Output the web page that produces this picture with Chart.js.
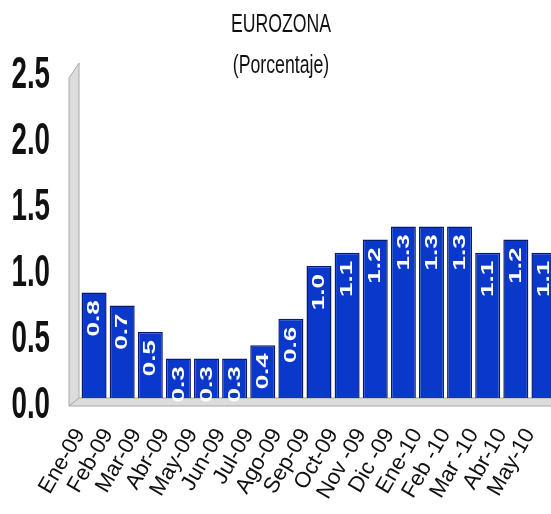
<!DOCTYPE html>
<html>
<head>
<meta charset="utf-8">
<script src="https://cdn.jsdelivr.net/npm/chart.js@4.4.1/dist/chart.umd.min.js"></script>
<style>
  html, body { margin: 0; padding: 0; background: #ffffff; overflow: hidden; }
  #wrap { width: 560px; height: 514px; }
</style>
</head>
<body>
<div id="wrap"><canvas id="c" width="560" height="514"></canvas></div>
<script>
// Monthly rate, Eurozone (percent)
const months = ['Ene-09', 'Feb-09', 'Mar-09', 'Abr-09', 'May-09', 'Jun-09', 'Jul-09', 'Ago-09',
                'Sep-09', 'Oct-09', 'Nov -09', 'Dic -09', 'Ene-10', 'Feb -10', 'Mar -10', 'Abr-10', 'May-10'];
const rates = [0.8, 0.7, 0.5, 0.3, 0.3, 0.3, 0.4, 0.6, 1.0, 1.1, 1.2, 1.3, 1.3, 1.3, 1.1, 1.2, 1.1];
const yTicks = [0, 0.5, 1.0, 1.5, 2.0, 2.5];
const titleLines = ['EUROZONA', '(Porcentaje)'];

const SANS = "'Liberation Sans', Arial, sans-serif";
const SQUASH = 0.63;   // horizontal compression applied to the text

// Grey back wall and floor giving the plot a 3-D frame
const framePlugin = {
  id: 'frame3d',
  beforeDatasetsDraw(chart) {
    const { ctx, chartArea: a } = chart;
    ctx.save();
    ctx.fillStyle = '#dcdcdc';
    ctx.strokeStyle = '#a8a8a8';
    ctx.lineWidth = 1;
    // wall
    ctx.beginPath();
    ctx.moveTo(a.left - 11, a.top + 10);
    ctx.lineTo(a.left - 1, a.top - 5);
    ctx.lineTo(a.left - 1, a.bottom);
    ctx.lineTo(a.left - 11, a.bottom + 8);
    ctx.closePath();
    ctx.fill();
    ctx.stroke();
    // floor
    ctx.beginPath();
    ctx.moveTo(a.left - 1, a.bottom);
    ctx.lineTo(a.right + 10, a.bottom);
    ctx.lineTo(a.right + 2, a.bottom + 8);
    ctx.lineTo(a.left - 11, a.bottom + 8);
    ctx.closePath();
    ctx.fill();
    ctx.stroke();
    ctx.restore();
  }
};

// Narrow, tall y-axis numbers: compress the axis labels around their right edge
const narrowYLabels = {
  id: 'narrowYLabels',
  afterLayout(chart) {
    const ys = chart.scales.y;
    if (ys._narrow) return;
    const orig = ys.drawLabels;
    ys._computeLabelArea = () => undefined;
    ys.drawLabels = function (area) {
      const c = this.ctx;
      const ax = this.right - this.options.ticks.padding;
      c.save();
      c.translate(ax, 0);
      c.scale(SQUASH, 1);
      c.translate(-ax, 0);
      orig.call(this, area);
      c.restore();
    };
    ys._narrow = true;
  }
};

// White vertical value labels inside the top of each bar
const valueLabels = {
  id: 'valueLabels',
  afterDatasetsDraw(chart) {
    const { ctx } = chart;
    const meta = chart.getDatasetMeta(0);
    ctx.save();
    ctx.fillStyle = '#ffffff';
    ctx.font = 'bold 26px ' + SANS;
    ctx.textAlign = 'right';
    ctx.textBaseline = 'middle';
    meta.data.forEach((bar, i) => {
      ctx.save();
      ctx.translate(bar.x, bar.y + 8);
      ctx.scale(SQUASH, 1);
      ctx.rotate(-Math.PI / 2);
      ctx.fillText(rates[i].toFixed(1), 0, 1);
      ctx.restore();
    });
    ctx.restore();
  }
};

// Two-line heading
const heading = {
  id: 'heading',
  afterDraw(chart) {
    const { ctx } = chart;
    ctx.save();
    ctx.fillStyle = '#111111';
    ctx.textAlign = 'center';
    ctx.textBaseline = 'middle';
    ctx.font = '26px ' + SANS;
    ctx.translate(281, 0);
    ctx.scale(0.68, 1);
    ctx.fillText(titleLines[0], 0, 25);
    ctx.fillText(titleLines[1], 0, 66);
    ctx.restore();
  }
};

new Chart(document.getElementById('c'), {
  type: 'bar',
  data: {
    labels: months,
    datasets: [{
      data: rates,
      backgroundColor: '#0a38cb',
      borderColor: '#0a1a70',
      borderWidth: 1.5,
      borderSkipped: 'bottom',
      categoryPercentage: 1.0,
      barPercentage: 0.89
    }]
  },
  options: {
    responsive: false,
    animation: false,
    layout: { padding: { left: 0, right: 2, top: 68, bottom: 0 } },
    plugins: {
      legend: { display: false },
      tooltip: { enabled: false },
      title: { display: false }
    },
    scales: {
      x: {
        grid: { display: false, drawTicks: false },
        border: { display: false },
        afterFit: s => { s.height = 116; s.paddingLeft = 0; s.paddingRight = 0; },
        ticks: {
          autoSkip: false,
          minRotation: 60,
          maxRotation: 60,
          padding: 26,
          labelOffset: -14,
          color: '#111111',
          font: { family: SANS, size: 22 }
        }
      },
      y: {
        min: 0,
        max: 2.5,
        afterFit: s => { s.width = 80; },
        afterBuildTicks: s => { s.ticks = yTicks.map(v => ({ value: v })); },
        grid: { display: false, drawTicks: false },
        border: { display: false },
        ticks: {
          padding: 30,
          labelOffset: 8,
          color: '#111111',
          font: { family: SANS, size: 44, weight: 'bold' },
          callback: v => Number(v).toFixed(1)
        }
      }
    }
  },
  plugins: [framePlugin, narrowYLabels, valueLabels, heading]
});
</script>
</body>
</html>
